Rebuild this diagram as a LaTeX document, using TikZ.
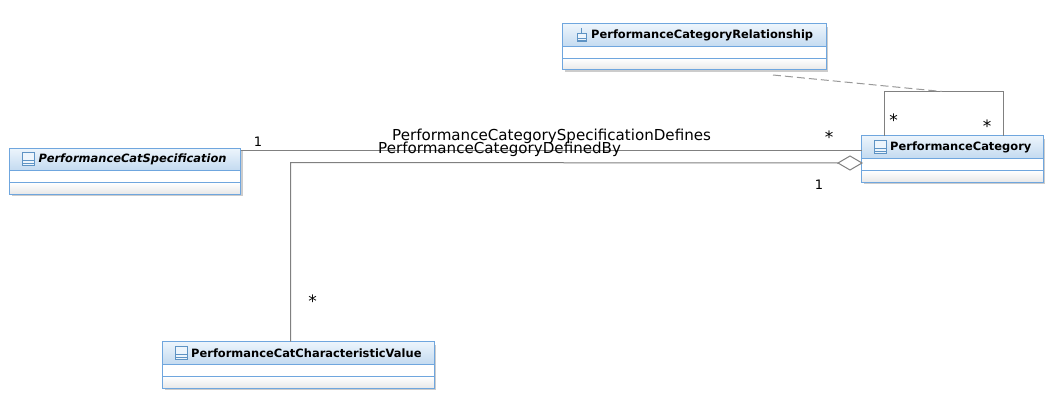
\documentclass[tikz,border=0pt]{standalone}
\usepackage{fontspec}
\usetikzlibrary{shapes.geometric}
\setmainfont{DejaVu Sans}
\definecolor{edgeblue}{HTML}{6FA6DE}
\definecolor{headtop}{HTML}{EDF5FC}
\definecolor{headbot}{HTML}{C3DAF0}
\definecolor{iconblue}{HTML}{5E93C4}
\definecolor{linegray}{HTML}{808080}
\definecolor{dashgray}{HTML}{999999}
\tikzset{
  classbox/.style={rectangle,draw=edgeblue,line width=1pt,inner sep=0pt,outer sep=0pt},
  classname/.style={anchor=west,inner sep=0pt,font=\fontsize{11.45}{13}\selectfont\bfseries,text=black},
  assoc/.style={draw=linegray,line width=1pt},
  realize/.style={draw=dashgray,line width=1pt,dash pattern=on 8pt off 4pt},
  rolename/.style={anchor=west,inner sep=0pt,font=\fontsize{15.1}{17}\selectfont,text=black},
  mult/.style={inner sep=0pt,font=\fontsize{13}{15}\selectfont,text=black},
  star/.style={inner sep=0pt,font=\fontsize{17}{19}\selectfont,text=black},
  iconbox/.style={draw=iconblue,line width=.8pt,fill=headtop},
  aggdiamond/.style={diamond,draw=linegray,line width=1pt,inner sep=0pt,outer sep=0pt,aspect=1.7,minimum width=24,minimum height=14},
}
% name x1 y1 x2 y2 divider1 divider2
\newcommand\umlclass[7]{%
  \fill[black!20] (#2+2,#3+3) rectangle (#4+2,#5+2);
  \shade[top color=headtop,bottom color=headbot] (#2,#3) rectangle (#4,#6);
  \shade[top color=white,bottom color=black!9] (#2,#7) rectangle (#4,#5);
  \fill[white] (#2,#6) rectangle (#4,#7);
  \node[classbox,minimum width={#4-#2},minimum height={#5-#3}] (#1) at ({(#2+#4)/2},{(#3+#5)/2}) {};
  \draw[edgeblue,line width=1pt] (#2,#6) -- (#4,#6) (#2,#7) -- (#4,#7);
}
% class icon: x1 y1 x2 y2
\newcommand\umlicon[4]{%
  \draw[iconbox] (#1,#2) rectangle (#3,#4);
  \draw[iconblue,line width=.8pt] (#1,{#2+(#4-#2)*.62}) -- (#3,{#2+(#4-#2)*.62}) (#1,{#2+(#4-#2)*.82}) -- (#3,{#2+(#4-#2)*.82});
}
\begin{document}
\begin{tikzpicture}[x=1pt,y=-1pt]
\useasboundingbox (0,0) rectangle (1058,404);
\fill[white] (0,0) rectangle (1058,404);

% free ends and bends
\coordinate (loopL) at (884.5,91.5);
\coordinate (loopR) at (1003.5,91.5);
\coordinate (dashA) at (773,75);
\coordinate (dashB) at (942,91.5);
\coordinate (aggBend) at (290.5,162.5);

\umlclass{rel}{562.5}{24}{826}{70}{47}{58.5}
\umlclass{spec}{9.5}{148}{240.5}{194}{170.5}{182.5}
\umlclass{val}{162.5}{341.5}{434}{388}{364.5}{376.5}
\umlclass{cat}{861.5}{135.5}{1043}{182}{158.5}{170.5}

\node[aggdiamond] (agg) at (850,163) {};

\umlicon{577}{33.5}{586}{41.5}
\draw[iconblue,line width=.8pt] (581.5,28) -- (581.5,33.5);
\umlicon{22.5}{152}{34.5}{165.5}
\umlicon{874}{140}{886}{153.5}
\umlicon{175.5}{346}{187.5}{359.5}

\node[classname] (relname) at (591,35.5) {PerformanceCategoryRelationship};
\node[classname] (specname) at (38.5,159) {\itshape PerformanceCatSpecification};
\node[classname] (catname) at (890,147.5) {PerformanceCategory};
\node[classname] (valname) at (191,353.5) {PerformanceCatCharacteristicValue};

% association: specification -- category
\draw[assoc] ([yshift=-2.5]spec.north east) -- ([yshift=-2.5]spec.north east -| cat.west);
% aggregation: category <>-- value
\draw[assoc] (agg.west) -- (aggBend) -- (val.north -| aggBend);
% self association on category
\draw[assoc] (cat.north -| loopL) -- (loopL) -- (loopR) -- (cat.north -| loopR);
% association class link
\draw[realize] (dashA) -- (dashB);

\node[rolename] (r1) at (392,136.5) {PerformanceCategorySpecificationDefines};
\node[rolename] (r2) at (378,149) {PerformanceCategoryDefinedBy};

\node[mult] (m1) at (258,142) {1};
\node[star] (m2) at (829,137) {*};
\node[mult] (m3) at (819,185) {1};
\node[star] (m4) at (893.5,120) {*};
\node[star] (m5) at (987,126) {*};
\node[star] (m6) at (312.5,301) {*};
\end{tikzpicture}
\end{document}
